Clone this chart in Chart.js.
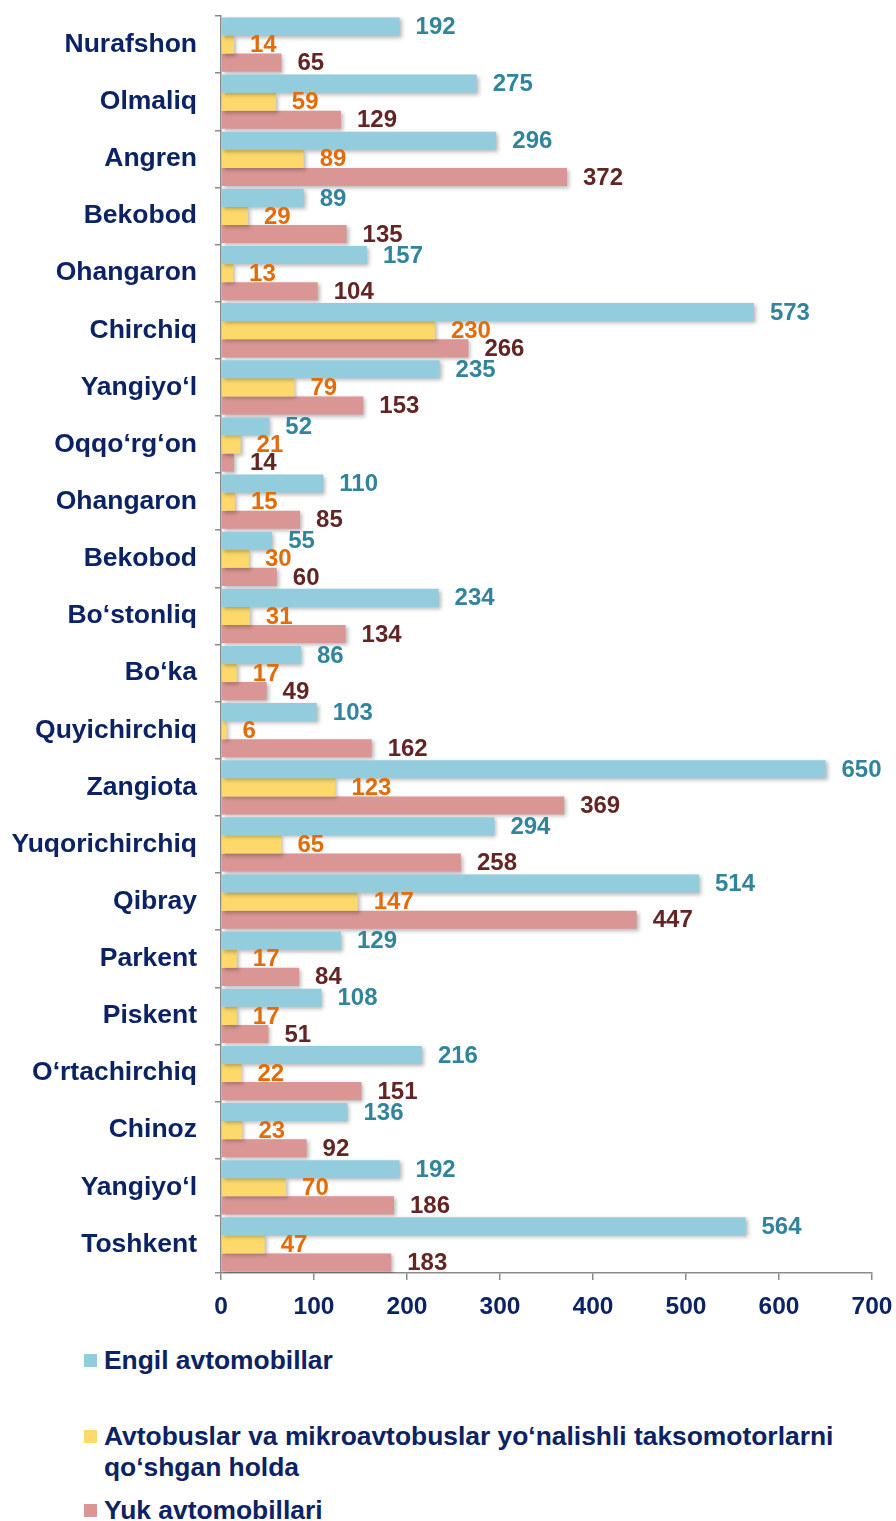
<!DOCTYPE html>
<html>
<head>
<meta charset="utf-8">
<script src="https://cdn.jsdelivr.net/npm/chart.js@4.4.1/dist/chart.umd.min.js"></script>
<style>
  html, body { margin: 0; padding: 0; background: #fff; }
  #wrap { position: relative; width: 896px; height: 1521px; font-family: "Liberation Sans", Arial, sans-serif; }
  #chart-box { position: absolute; left: 0; top: 0; width: 896px; height: 1330px; }
  .legend-item { position: absolute; left: 84px; color: #0b2265; font-weight: bold; font-size: 26.4px; line-height: 31px; white-space: nowrap; }
  .legend-item .box { position: absolute; left: 0; top: 9px; width: 13px; height: 13px; }
  .legend-item .txt { margin-left: 20px; display: block; }
</style>
</head>
<body>
<div id="wrap">
  <div id="chart-box"><canvas id="vehicleChart"></canvas></div>
  <div id="legend"></div>
</div>
<script>
// District names, top to bottom
const districts = [
  'Nurafshon', 'Olmaliq', 'Angren', 'Bekobod', 'Ohangaron', 'Chirchiq',
  'Yangiyo‘l', 'Oqqo‘rg‘on', 'Ohangaron', 'Bekobod', 'Bo‘stonliq', 'Bo‘ka',
  'Quyichirchiq', 'Zangiota', 'Yuqorichirchiq', 'Qibray', 'Parkent', 'Piskent',
  'O‘rtachirchiq', 'Chinoz', 'Yangiyo‘l', 'Toshkent'
];

// Passenger cars
const cars = [192, 275, 296, 89, 157, 573, 235, 52, 110, 55, 234, 86, 103, 650, 294, 514, 129, 108, 216, 136, 192, 564];
// Buses and minibuses incl. route taxis
const buses = [14, 59, 89, 29, 13, 230, 79, 21, 15, 30, 31, 17, 6, 123, 65, 147, 17, 17, 22, 23, 70, 47];
// Trucks
const trucks = [65, 129, 372, 135, 104, 266, 153, 14, 85, 60, 134, 49, 162, 369, 258, 447, 84, 51, 151, 92, 186, 183];

const xTicks = [0, 100, 200, 300, 400, 500, 600, 700];

const seriesNames = [
  'Engil avtomobillar',
  ['Avtobuslar va mikroavtobuslar yo‘nalishli taksomotorlarni', 'qo‘shgan holda'],
  'Yuk avtomobillari'
];

const barColors = ['#93cddd', '#fdd96c', '#d99694'];
const labelColors = ['#31849b', '#e36c09', '#632523'];
const navy = '#0b2265';
const axisGray = '#8a8a8a';
const FONT = '"Liberation Sans", Arial, sans-serif';

// soft drop shadow under the bars
const barShadow = {
  id: 'barShadow',
  beforeDatasetsDraw(chart) {
    const ctx = chart.ctx;
    ctx.save();
    ctx.shadowColor = 'rgba(0, 0, 0, 0.28)';
    ctx.shadowBlur = 4;
    ctx.shadowOffsetX = 2;
    ctx.shadowOffsetY = 2;
  },
  afterDatasetsDraw(chart) {
    chart.ctx.restore();
  }
};

// value printed to the right of each bar
const valueLabels = {
  id: 'valueLabels',
  afterDatasetsDraw(chart) {
    const ctx = chart.ctx;
    ctx.save();
    ctx.font = 'bold 24px ' + FONT;
    ctx.textAlign = 'left';
    ctx.textBaseline = 'middle';
    chart.data.datasets.forEach((ds, di) => {
      const meta = chart.getDatasetMeta(di);
      ctx.fillStyle = labelColors[di];
      meta.data.forEach((bar, i) => {
        ctx.fillText(String(ds.data[i]), bar.x + 16, bar.y + 1);
      });
    });
    ctx.restore();
  }
};

const datasets = [cars, buses, trucks].map((values, i) => ({
  label: Array.isArray(seriesNames[i]) ? seriesNames[i].join(' ') : seriesNames[i],
  data: values,
  backgroundColor: barColors[i],
  borderWidth: 0,
  categoryPercentage: 0.95,
  barPercentage: 1.0
}));

new Chart(document.getElementById('vehicleChart'), {
  type: 'bar',
  data: { labels: districts, datasets: datasets },
  plugins: [barShadow, valueLabels],
  options: {
    indexAxis: 'y',
    responsive: true,
    maintainAspectRatio: false,
    animation: false,
    layout: { padding: { top: 16, right: 24, left: 0, bottom: 0 } },
    plugins: {
      legend: { display: false },
      tooltip: { enabled: false }
    },
    scales: {
      y: {
        afterFit(scale) {
          scale.width = 221;
          scale.paddingTop = 0;
          scale.paddingBottom = 0;
        },
        border: { display: true, color: axisGray, width: 1.5 },
        grid: {
          offset: true,
          drawOnChartArea: false,
          drawTicks: true,
          tickLength: 6,
          color: axisGray,
          lineWidth: 1.5
        },
        ticks: {
          color: navy,
          padding: 18,
          autoSkip: false,
          font: { family: FONT, size: 26.5, weight: 'bold' }
        }
      },
      x: {
        min: 0,
        max: 700,
        afterFit(scale) {
          scale.height = 57;
          scale.paddingLeft = 0;
          scale.paddingRight = 0;
        },
        afterBuildTicks(scale) { scale.ticks = xTicks.map(v => ({ value: v })); },
        border: { display: true, color: axisGray, width: 1.5 },
        grid: {
          drawOnChartArea: false,
          drawTicks: true,
          tickLength: 7,
          color: axisGray,
          lineWidth: 1.5
        },
        ticks: {
          color: navy,
          padding: 13,
          maxRotation: 0,
          font: { family: FONT, size: 24.5, weight: 'bold' }
        }
      }
    }
  }
});

// Legend under the chart, stacked vertically
const legendTops = [1345, 1421, 1495];
const legendEl = document.getElementById('legend');
seriesNames.forEach((name, i) => {
  const item = document.createElement('div');
  item.className = 'legend-item';
  item.style.top = legendTops[i] + 'px';
  const box = document.createElement('span');
  box.className = 'box';
  box.style.background = barColors[i];
  const txt = document.createElement('span');
  txt.className = 'txt';
  txt.innerHTML = (Array.isArray(name) ? name : [name]).join('<br>');
  item.appendChild(box);
  item.appendChild(txt);
  legendEl.appendChild(item);
});
</script>
</body>
</html>
